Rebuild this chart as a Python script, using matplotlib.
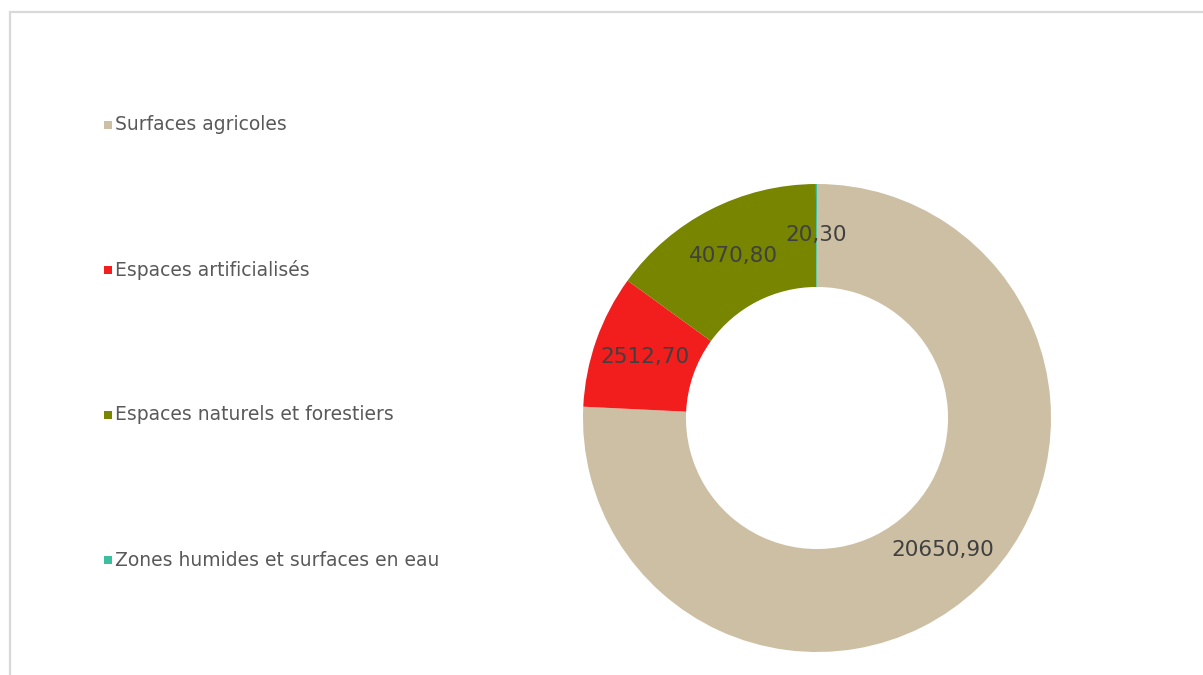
import numpy as np
import matplotlib.pyplot as plt
from matplotlib.patches import Rectangle

plt.rcParams['font.family'] = ['DejaVu Sans']

# données
categories = ['Surfaces agricoles', 'Espaces artificialisés',
              'Espaces naturels et forestiers', 'Zones humides et surfaces en eau']
valeurs = [20650.90, 2512.70, 4070.80, 20.30]
couleurs = ['#CDBFA3', '#F21D1D', '#778500', '#3DBF9F']


def fmt(v):
    return ('%.2f' % v).replace('.', ',')


fig = plt.figure(figsize=(12.03, 6.75), dpi=100)

# cadre gris (haut + gauche)
fig.add_artist(Rectangle((10 / 1203, -0.1), 1.2, (663 / 675) + 0.1,
                         transform=fig.transFigure, fill=False,
                         edgecolor='#D9D9D9', linewidth=1.6))

# anneau
r = 234
cx, cy = 817, 675 - 418
ax = fig.add_axes([(cx - r) / 1203, (cy - r) / 675, 2 * r / 1203, 2 * r / 675])
wedges, _ = ax.pie(valeurs, colors=couleurs, startangle=90, counterclock=False,
                   radius=1, wedgeprops=dict(width=0.44, linewidth=0))
ax.set_aspect('equal')
ax.set_xlim(-1, 1)
ax.set_ylim(-1, 1)
ax.axis('off')

for w, v in zip(wedges, valeurs):
    ang = np.deg2rad((w.theta1 + w.theta2) / 2)
    d = 0.78
    ax.text(d * np.cos(ang), d * np.sin(ang), fmt(v), ha='center', va='center',
            fontsize=15.5, color='#404040')

# légende
ys = [125, 270, 415, 560]
for lab, col, y in zip(categories, couleurs, ys):
    fig.add_artist(Rectangle((104 / 1203, (675 - y - 4) / 675), 8 / 1203, 8 / 675,
                             transform=fig.transFigure, facecolor=col, edgecolor='none'))
    fig.text(115 / 1203, (675 - y) / 675, lab, fontsize=13.5, color='#595959',
             ha='left', va='center')

fig.savefig('out.png', dpi=100)
